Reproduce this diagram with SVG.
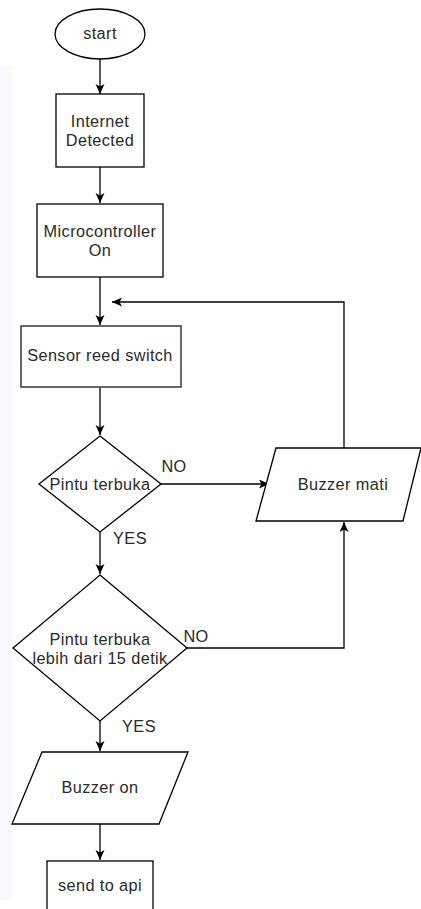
<svg xmlns="http://www.w3.org/2000/svg" width="421" height="909" viewBox="0 0 421 909">
<style>
.s{fill:#fff;stroke:#000;stroke-width:1.3}
.g{fill:#fff;stroke:#444;stroke-width:1.6}
.t{font-family:"Liberation Sans",Arial,sans-serif;font-size:16.3px;letter-spacing:0.4px;fill:#2a2a2a;text-anchor:middle;dominant-baseline:central}
.e{fill:none;stroke:#000;stroke-width:1.3}
</style>
<defs>
<marker id="a" markerUnits="userSpaceOnUse" markerWidth="11" markerHeight="10" refX="10" refY="4.5" orient="auto">
<path d="M0,0 L10,4.5 L0,9 L2.5,4.5 z" fill="#000"/>
</marker>
</defs>
<rect x="0" y="66" width="12" height="834" fill="#f8f9fc"/>
<g id="connectors">
<path class="e" d="M100,59 V94" marker-end="url(#a)"/>
<path class="e" d="M100,167 V203" marker-end="url(#a)"/>
<path class="e" d="M100,277 V325" marker-end="url(#a)"/>
<path class="e" d="M344,448 V302 H112" marker-end="url(#a)"/>
<path class="e" d="M100,387 V435" marker-end="url(#a)"/>
<path class="e" d="M161,484 H269" marker-end="url(#a)"/>
<path class="e" d="M100,532 V574" marker-end="url(#a)"/>
<path class="e" d="M187,648 H344 V522" marker-end="url(#a)"/>
<path class="e" d="M100,721 V751" marker-end="url(#a)"/>
<path class="e" d="M100,824 V860" marker-end="url(#a)"/>
<text class="t" x="174" y="466">NO</text>
<text class="t" x="130" y="538">YES</text>
<text class="t" x="196" y="636">NO</text>
<text class="t" x="139" y="726">YES</text>
</g>
<g id="start">
<ellipse class="s" cx="100" cy="34" rx="45" ry="25"/>
<text class="t" x="100" y="33">start</text>
</g>
<g id="internet">
<rect class="s" x="56" y="94" width="88" height="73"/>
<text class="t" x="100" y="121">Internet</text>
<text class="t" x="100" y="139.5">Detected</text>
</g>
<g id="micro">
<rect class="s" x="37" y="204" width="126" height="73"/>
<text class="t" x="100" y="231">Microcontroller</text>
<text class="t" x="100" y="249.5">On</text>
</g>
<g id="sensor">
<rect class="g" x="21" y="326" width="160" height="61"/>
<text class="t" x="100" y="355">Sensor reed switch</text>
</g>
<g id="pintu1">
<polygon class="s" points="100,436 161,484 100,532 39,484"/>
<text class="t" x="100" y="484">Pintu terbuka</text>
</g>
<g id="buzzermati">
<polygon class="s" points="276,448 421,448 403,521 256,521"/>
<text class="t" x="343" y="484">Buzzer mati</text>
</g>
<g id="pintu2">
<polygon class="s" points="100,575 187,648 100,721 13,648"/>
<text class="t" x="100" y="639">Pintu terbuka</text>
<text class="t" x="100" y="657.5">lebih dari 15 detik</text>
</g>
<g id="buzzeron">
<polygon class="s" points="42,752 188,752 159,824 12,824"/>
<text class="t" x="100" y="787">Buzzer on</text>
</g>
<g id="sendapi">
<rect class="s" x="47" y="861" width="106" height="60"/>
<text class="t" x="100" y="885">send to api</text>
</g>
</svg>
